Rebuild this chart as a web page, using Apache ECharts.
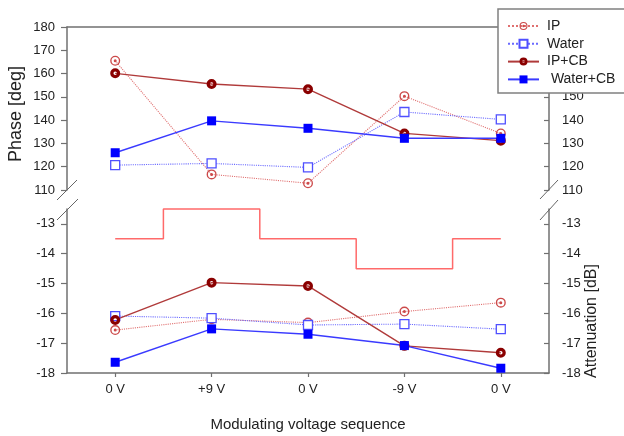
<!DOCTYPE html>
<html>
<head>
<meta charset="utf-8">
<script src="https://cdn.jsdelivr.net/npm/echarts@6/dist/echarts.min.js"></script>
<style>html,body{margin:0;padding:0;background:#fff}#c{width:624px;height:436px}</style>
</head>
<body>
<div id="c"></div>
<script>
const categories = ['0 V', '+9 V', '0 V', '-9 V', '0 V'];
const phaseIP = [165.5, 116.7, 112.9, 150.3, 134.3];
const phaseWater = [120.7, 121.4, 119.7, 143.5, 140.3];
const phaseIPCB = [160.1, 155.5, 153.3, 134.3, 131.2];
const phaseWaterCB = [126.0, 139.7, 136.5, 132.2, 132.2];
const attIP = [-16.56, -16.2, -16.31, -15.94, -15.64];
const attWater = [-16.09, -16.16, -16.39, -16.36, -16.53];
const attIPCB = [-16.22, -14.97, -15.08, -17.09, -17.32];
const attWaterCB = [-17.64, -16.52, -16.70, -17.08, -17.84];
const voltageStep = [-13.5, -12.5, -13.5, -14.5, -13.5];
const phaseTicks = [110, 120, 130, 140, 150, 160, 170, 180];
const attTicks = [-18, -17, -16, -15, -14, -13];

const FONT = 'Liberation Sans, Arial, sans-serif';
const AX = '#707070';
const TXT = '#222';
const L = 67, R = 549, TOP1 = 27, BOT1 = 190, TOP2 = 209, BOT2 = 373;

const ringDotThin = 'path://M0,-10 A10,10 0 1,1 0,10 A10,10 0 1,1 0,-10 Z M0,-7.3 A7.3,7.3 0 1,0 0,7.3 A7.3,7.3 0 1,0 0,-7.3 Z M0,-3 A3,3 0 1,1 0,3 A3,3 0 1,1 0,-3 Z';
const ringThick = 'path://M0,-10 A10,10 0 1,1 0,10 A10,10 0 1,1 0,-10 Z M0,-3.5 A3.5,3.5 0 1,0 0,3.5 A3.5,3.5 0 1,0 0,-3.5 Z';

const chart = echarts.init(document.getElementById('c'), null, {renderer: 'canvas'});

function yAx(grid, side, min, max, ticks) {
  return {
    type: 'value', gridIndex: grid, position: side, min: min, max: max, interval: grid === 0 ? 10 : 1,
    axisLine: {show: true, lineStyle: {color: AX, width: 1.5}},
    axisTick: {show: true, inside: side === 'right', length: side === 'right' ? 5 : 6, lineStyle: {color: AX, width: 1.2}, customValues: ticks},
    axisLabel: {show: true, margin: side === 'right' ? 13 : 12, color: TXT, fontSize: 13, fontFamily: FONT, customValues: ticks},
    splitLine: {show: false}
  };
}

function mk(name, grid, data, kind) {
  const s = {
    name: name, type: 'line', xAxisIndex: grid, yAxisIndex: grid * 2, data: data,
    silent: true, clip: false, z: 3
  };
  if (kind === 'ip') {
    Object.assign(s, {symbol: ringDotThin, symbolSize: 10,
      lineStyle: {color: '#e07070', width: 1.1, type: 'dotted'},
      itemStyle: {color: '#cc4a4a'}});
  } else if (kind === 'water') {
    Object.assign(s, {symbol: 'rect', symbolSize: 9,
      lineStyle: {color: '#6a6aff', width: 1.1, type: 'dotted'},
      itemStyle: {color: '#ffffff', borderColor: '#4f4fff', borderWidth: 1.3}});
  } else if (kind === 'ipcb') {
    Object.assign(s, {symbol: ringThick, symbolSize: 10,
      lineStyle: {color: '#b03a3a', width: 1.4},
      itemStyle: {color: '#8a0000'}});
  } else {
    Object.assign(s, {symbol: 'rect', symbolSize: 9,
      lineStyle: {color: '#3a3aff', width: 1.4},
      itemStyle: {color: '#0000ff'}});
  }
  return s;
}

const option = {
  animation: false,
  backgroundColor: '#fff',
  textStyle: {fontFamily: FONT},
  grid: [
    {left: L, width: R - L, top: TOP1, height: BOT1 - TOP1},
    {left: L, width: R - L, top: TOP2, height: BOT2 - TOP2}
  ],
  xAxis: [
    {type: 'category', gridIndex: 0, data: categories, position: 'top', boundaryGap: true,
      axisLine: {show: true, lineStyle: {color: AX, width: 1.5}}, axisTick: {show: false}, axisLabel: {show: false}},
    {type: 'category', gridIndex: 1, data: categories, position: 'bottom', boundaryGap: true,
      axisLine: {show: true, lineStyle: {color: AX, width: 1.5}},
      axisTick: {show: true, alignWithLabel: true, length: 4, lineStyle: {color: AX, width: 1.2}},
      axisLabel: {margin: 10, color: TXT, fontSize: 13, fontFamily: FONT}}
  ],
  yAxis: [
    yAx(0, 'left', 110, 180, phaseTicks),
    yAx(0, 'right', 110, 180, phaseTicks),
    yAx(1, 'left', -18, -12.5, attTicks),
    yAx(1, 'right', -18, -12.5, attTicks)
  ],
  legend: {
    orient: 'vertical', left: 498, top: 9, padding: [10, 10, 10, 9],
    itemWidth: 31, itemHeight: 10, itemGap: 3.8, z: 20,
    data: ['IP', 'Water', 'IP+CB', 'Water+CB'],
    formatter: function (n) { return n === 'Water+CB' ? ' ' + n : n; },
    textStyle: {fontSize: 14, color: TXT, fontFamily: FONT, padding: [0, 0, 0, 3]},
    selectedMode: false
  },
  series: [
    mk('IP', 0, phaseIP, 'ip'),
    mk('Water', 0, phaseWater, 'water'),
    mk('IP+CB', 0, phaseIPCB, 'ipcb'),
    mk('Water+CB', 0, phaseWaterCB, 'wcb'),
    mk('IP', 1, attIP, 'ip'),
    mk('Water', 1, attWater, 'water'),
    mk('IP+CB', 1, attIPCB, 'ipcb'),
    mk('Water+CB', 1, attWaterCB, 'wcb'),
    {name: 'Voltage', type: 'line', xAxisIndex: 1, yAxisIndex: 2, data: voltageStep, step: 'middle',
      symbol: 'none', silent: true, clip: false, z: 2,
      lineStyle: {color: '#ff6a6a', width: 1.5}}
  ],
  graphic: [
    {type: 'rect', z: 15, shape: {x: 498, y: 9, width: 150, height: 84},
      style: {fill: '#fff', stroke: '#808080', lineWidth: 1.5}},
    {type: 'text', z: 5, x: 16, y: 114, rotation: Math.PI / 2,
      style: {text: 'Phase [deg]', fontSize: 18, fontFamily: FONT, fill: TXT, align: 'center', verticalAlign: 'middle'}},
    {type: 'text', z: 5, x: 592, y: 321, rotation: Math.PI / 2,
      style: {text: 'Attenuation [dB]', fontSize: 16, fontFamily: FONT, fill: TXT, align: 'center', verticalAlign: 'middle'}},
    {type: 'text', z: 5, x: (L + R) / 2, y: 425,
      style: {text: 'Modulating voltage sequence', fontSize: 15, fontFamily: FONT, fill: TXT, align: 'center', verticalAlign: 'middle'}},
    {type: 'line', z: 5, shape: {x1: L - 10, y1: BOT1 + 10, x2: L + 10, y2: BOT1 - 10}, style: {stroke: '#666', lineWidth: 1}},
    {type: 'line', z: 5, shape: {x1: L - 10, y1: TOP2 + 11, x2: L + 11, y2: TOP2 - 10}, style: {stroke: '#666', lineWidth: 1}},
    {type: 'line', z: 5, shape: {x1: R - 9, y1: BOT1 + 9, x2: R + 9, y2: BOT1 - 10}, style: {stroke: '#666', lineWidth: 1}},
    {type: 'line', z: 5, shape: {x1: R - 9, y1: TOP2 + 11, x2: R + 9, y2: TOP2 - 9}, style: {stroke: '#666', lineWidth: 1}}
  ]
};
chart.setOption(option);
</script>
</body>
</html>
